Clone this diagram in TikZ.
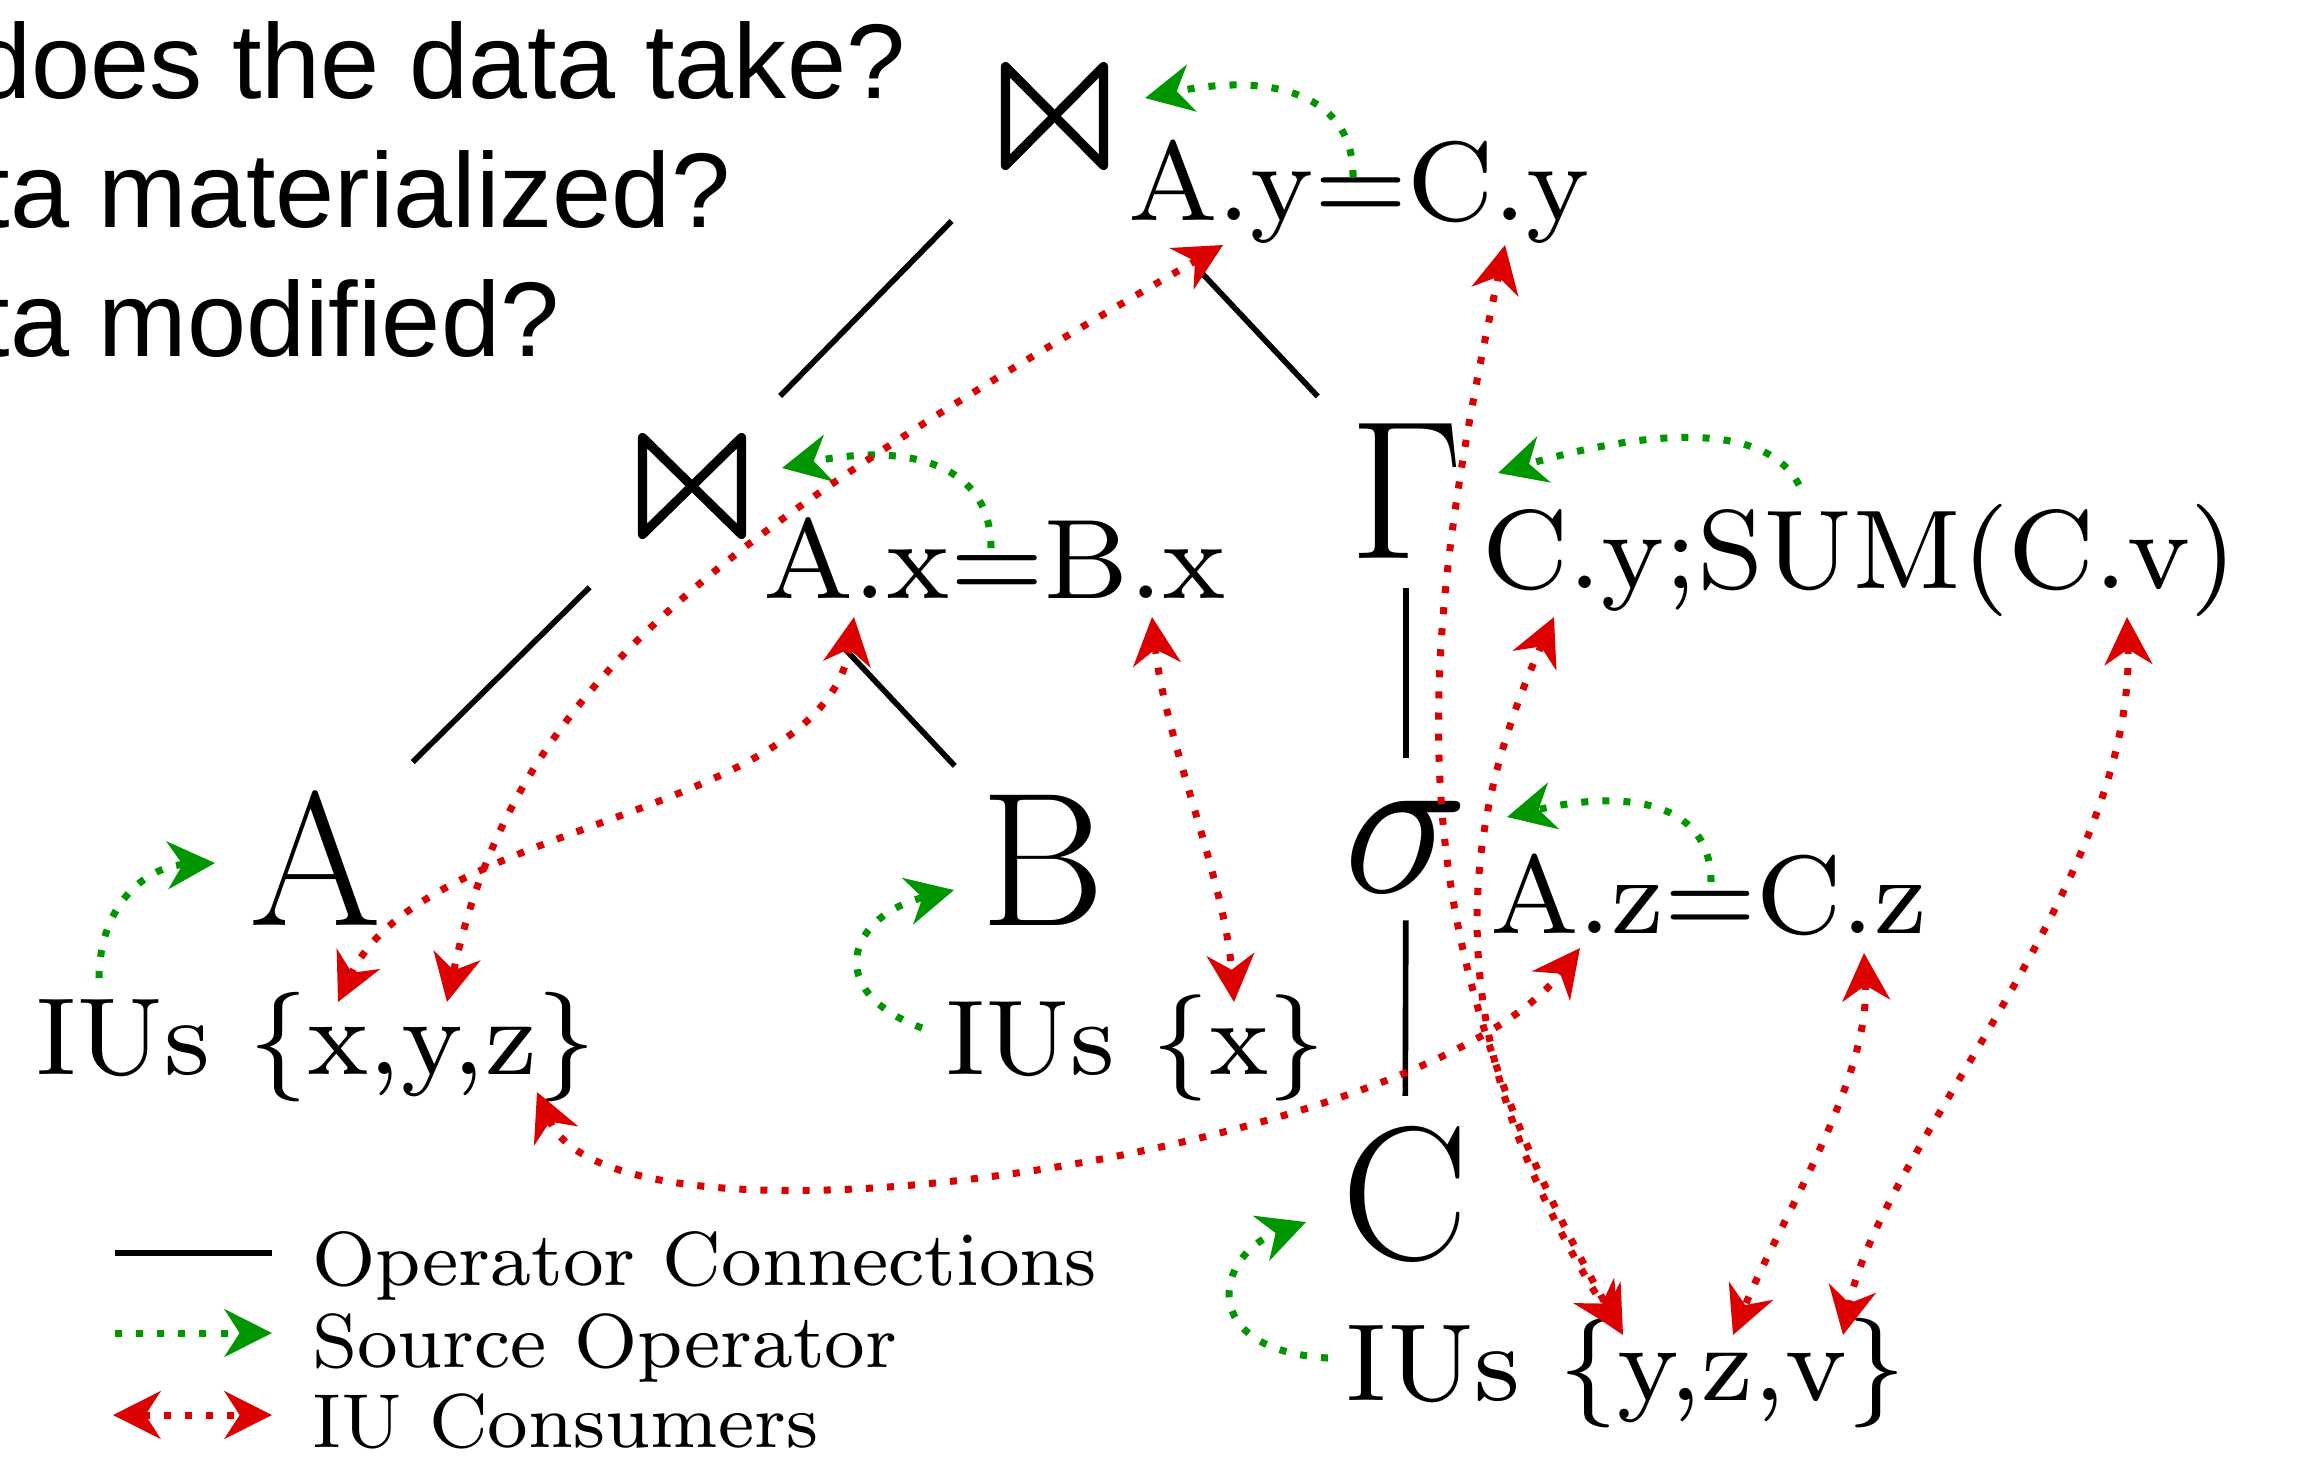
\documentclass[tikz,border=0pt]{standalone}
\usepackage{amssymb}
\usepackage{graphicx}
\usepackage{fontspec}
\newfontfamily\headfont{Liberation Sans}
\usetikzlibrary{arrows.meta}
\newlength\pxu
\setlength\pxu{0.01cm}
\definecolor{srcgreen}{RGB}{0,150,0}
\definecolor{iured}{RGB}{220,0,0}
\newcommand\subf{\fontsize{8}{9}\selectfont}
\newcommand\iuf{\fontsize{8}{9}\selectfont}
\newcommand\legf{\fontsize{8}{9}\selectfont}
\begin{document}
\begin{tikzpicture}[x=0.01cm,y=-0.01cm,
  opline/.style={line width=1.6pt},
  joinsym/.style={draw=none, inner sep=0pt, outer sep=0pt},
  joinstroke/.style={line width=2.6pt, line join=round, line cap=round},
  srcarr/.style={draw=srcgreen, line width=2pt, dash pattern=on 2pt off 4pt,
     -{Stealth[length=13.5pt,width=13.5pt,inset=4.3pt]}},
  iuarr/.style={draw=iured, line width=2pt, dash pattern=on 2pt off 4pt,
     {Stealth[length=13.5pt,width=13.5pt,inset=4.3pt]}-{Stealth[length=13.5pt,width=13.5pt,inset=4.3pt]}},
  lbl/.style={inner sep=0pt, outer sep=0pt, anchor=base west},
  head/.style={inner sep=0pt, anchor=base east, font={\headfont\fontsize{30.2}{36}\selectfont}},
  big/.style={inner sep=0pt, anchor=base, font={\fontsize{20}{24}\selectfont}}]
\path[use as bounding box, fill=white] (0,0) rectangle (2316,1457);

% header questions
\node[head] (h1) at (906,98) {does the data take?};
\node[head] (h2) at (731,227) {ta materialized?};
\node[head] (h3) at (560,356) {ta modified?};

% join operators (bowtie)
\node[joinsym, minimum width=98\pxu, minimum height=99\pxu] (tj) at (1054.5,116) {};
\node[joinsym, minimum width=99\pxu, minimum height=97\pxu] (mj) at (692,486) {};
\draw[joinstroke] (tj.north west) -- (tj.south west) -- (tj.north east) -- (tj.south east) -- cycle;
\draw[joinstroke] (mj.north west) -- (mj.south west) -- (mj.north east) -- (mj.south east) -- cycle;

% operator subscripts
\node[lbl] (tjs) at (1128,220) {\resizebox{462\pxu}{!}{\subf A.y=C.y}};
\node[lbl] (mjs) at (763,598) {\resizebox{463\pxu}{!}{\subf A.x=B.x}};
\node[lbl] (gams) at (1482,588) {\resizebox{755\pxu}{!}{\subf C.y;SUM(C.v)}};
\node[lbl] (sigs) at (1490,933) {\resizebox{437\pxu}{!}{\subf A.z=C.z}};

% operators and tables
\node[big, scale=2.71] (A) at (316,925) {A};
\node[big, scale=2.71] (B) at (1043,925) {B};
\node[big, scale=2.71] (C) at (1405,1259) {C};
\node[big, scale=2.71] (gam) at (1406,558) {$\Gamma$};
\node[big, scale=2.9] (sig) at (1406,892) {$\sigma$};

% IU sets
\node[lbl] (iuA) at (35,1074) {\resizebox{560\pxu}{!}{\iuf IUs \{x,y,z\}}};
\node[lbl] (iuB) at (945,1074) {\resizebox{380\pxu}{!}{\iuf IUs \{x\}}};
\node[lbl] (iuC) at (1345,1400) {\resizebox{560\pxu}{!}{\iuf IUs \{y,z,v\}}};

% operator connections
\draw[opline, shorten <=147\pxu, shorten >=126\pxu] (tj.center) -- (mj.center);
\draw[opline, shorten <=211\pxu, shorten >=129\pxu] (tj.center) -- (gam.center);
\draw[opline, shorten <=144\pxu, shorten >=136\pxu] (mj.center) -- (A.center);
\draw[opline, shorten <=222\pxu, shorten >=129\pxu] (mj.center) -- (B.center);
\draw[opline, shorten <=98\pxu, shorten >=88\pxu] (gam.center) -- (sig.center);
\draw[opline, shorten <=74\pxu, shorten >=98\pxu] (sig.center) -- (C.center);

% source operator arrows
\coordinate (g1s) at (1353,177); \coordinate (g1e) at (1145,98);
\coordinate (g2s) at (991,548);  \coordinate (g2e) at (782,468);
\coordinate (g3s) at (1799,485); \coordinate (g3e) at (1498,473);
\coordinate (g4s) at (1711,882); \coordinate (g4e) at (1507,817);
\coordinate (g5s) at (99,978);   \coordinate (g5e) at (215,863);
\coordinate (g6s) at (922,1028); \coordinate (g6e) at (954,890);
\coordinate (g7s) at (1328,1358); \coordinate (g7e) at (1306,1222);
\draw[srcarr] (g1s) .. controls (1354,90) and (1264,73) .. (g1e);
\draw[srcarr] (g2s) .. controls (991,460) and (901,443) .. (g2e);
\draw[srcarr] (g3s) .. controls (1760,410) and (1610,440) .. (g3e);
\draw[srcarr] (g4s) .. controls (1711,798) and (1620,790) .. (g4e);
\draw[srcarr] (g5s) .. controls (100,900) and (150,866) .. (g5e);
\draw[srcarr] (g6s) .. controls (820,990) and (850,915) .. (g6e);
\draw[srcarr] (g7s) .. controls (1195,1350) and (1215,1255) .. (g7e);

% IU consumer arrows
\coordinate (r1a) at (1223,245); \coordinate (r1b) at (447,1002);
\coordinate (r2a) at (854,617);  \coordinate (r2b) at (338,1002);
\coordinate (r3a) at (1152,617); \coordinate (r3b) at (1234,1002);
\coordinate (r4a) at (1505,245); \coordinate (r4b) at (1623,1335);
\coordinate (r5a) at (1554,617); \coordinate (r5b) at (1619,1331);
\coordinate (r6a) at (537,1092); \coordinate (r6b) at (1580,948);
\coordinate (r7a) at (1864,953); \coordinate (r7b) at (1733,1335);
\coordinate (r8a) at (2127,617); \coordinate (r8b) at (1843,1335);
\draw[iuarr] (r1a) .. controls (720,535) and (516,680) .. (r1b);
\draw[iuarr] (r2a) .. controls (824,817) and (424,820) .. (r2b);
\draw[iuarr] (r3a) .. controls (1165,740) and (1225,880) .. (r3b);
\draw[iuarr] (r4a) .. controls (1409,691) and (1400,938) .. (r4b);
\draw[iuarr] (r5a) .. controls (1445,860) and (1450,1060) .. (r5b);
\draw[iuarr] (r6a) .. controls (617,1276) and (1425,1150) .. (r6b);
\draw[iuarr] (r7a) .. controls (1870,1080) and (1780,1220) .. (r7b);
\draw[iuarr] (r8a) .. controls (2135,880) and (1880,1150) .. (r8b);

% legend
\coordinate (l1a) at (115,1253); \coordinate (l1b) at (272,1253);
\coordinate (l2a) at (115,1333); \coordinate (l2b) at (272,1333);
\coordinate (l3a) at (113,1415); \coordinate (l3b) at (272,1415);
\draw[opline, line width=1.8pt] (l1a) -- (l1b);
\draw[srcarr] (l2a) -- (l2b);
\draw[iuarr] (l3a) -- (l3b);
\node[lbl] (t1) at (312,1285) {\resizebox{785\pxu}{!}{\legf Operator Connections}};
\node[lbl] (t2) at (312,1367) {\resizebox{585\pxu}{!}{\legf Source Operator}};
\node[lbl] (t3) at (312,1447) {\resizebox{506\pxu}{!}{\legf IU Consumers}};
\end{tikzpicture}
\end{document}
